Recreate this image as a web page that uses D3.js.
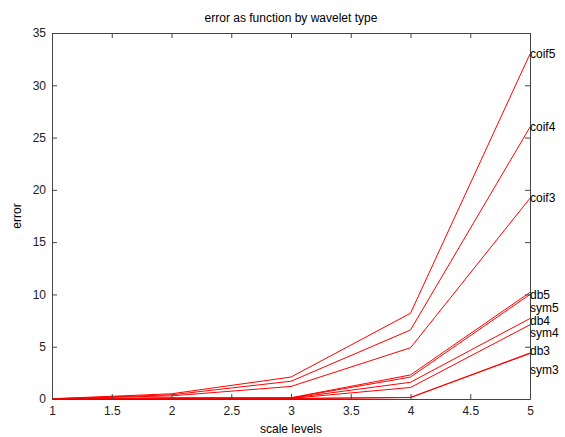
<!DOCTYPE html>
<html>
<head>
<meta charset="utf-8">
<script src="https://cdn.jsdelivr.net/npm/d3@7"></script>
<style>
  body { margin: 0; background: #fff; }
  text { font-family: "Liberation Sans", Arial, sans-serif; }
</style>
</head>
<body>
<div id="chart"></div>
<script>
var levels = [1, 2, 3, 4, 5];
var names = ["coif5", "coif4", "coif3", "db5", "sym5", "db4", "sym4", "db3", "sym3"];
var coif5 = [0.02, 0.5, 2.1, 8.2, 33.0];
var coif4 = [0.02, 0.4, 1.7, 6.6, 26.0];
var coif3 = [0.02, 0.3, 1.2, 4.9, 19.2];
var db5   = [0.01, 0.1, 0.12, 2.3, 10.2];
var sym5  = [0.01, 0.1, 0.1, 2.1, 10.0];
var db4   = [0.01, 0.07, 0.08, 1.6, 7.7];
var sym4  = [0.01, 0.06, 0.06, 1.1, 7.1];
var db3   = [0.01, 0.05, 0.05, 0.15, 4.4];
var sym3  = [0.01, 0.04, 0.04, 0.14, 4.35];
// where each name sits on the right edge (in error units)
var labelAt = [33.0, 26.0, 19.2, 10.0, 8.75, 7.45, 6.3, 4.6, 2.8];
var xTicks = [1, 1.5, 2, 2.5, 3, 3.5, 4, 4.5, 5];
var yTicks = [0, 5, 10, 15, 20, 25, 30, 35];

var series = [coif5, coif4, coif3, db5, sym5, db4, sym4, db3, sym3];

var width = 565, height = 437,
    plotL = 52, plotR = 530, plotT = 33, plotB = 399,
    tick = 5;

var svg = d3.select("#chart").append("svg")
  .attr("width", width)
  .attr("height", height);

var x = d3.scaleLinear().domain([1, 5]).range([plotL, plotR]);
var y = d3.scaleLinear().domain([0, 35]).range([plotB, plotT]);

var line = d3.line()
  .x(function(d, i) { return x(levels[i]); })
  .y(function(d) { return y(d); });

svg.selectAll("path.series")
  .data(series)
  .enter()
  .append("path")
  .attr("class", "series")
  .attr("d", line)
  .attr("fill", "none")
  .attr("stroke", "#ff0000")
  .attr("stroke-width", 1);

function styleAxis(g) {
  g.selectAll(".domain").attr("stroke", "#444");
  g.selectAll(".tick line").attr("stroke", "#444");
  g.selectAll(".tick text").attr("fill", "#222").style("font-size", "12px")
    .style("font-family", "'Liberation Sans', Arial, sans-serif");
}

svg.append("g")
  .attr("transform", "translate(0," + plotB + ")")
  .call(d3.axisBottom(x).tickValues(xTicks).tickFormat(String)
    .tickSizeInner(-tick).tickSizeOuter(0).tickPadding(7))
  .call(styleAxis);

svg.append("g")
  .attr("transform", "translate(0," + plotT + ")")
  .call(d3.axisTop(x).tickValues(xTicks).tickFormat("")
    .tickSizeInner(-tick).tickSizeOuter(0))
  .call(styleAxis);

svg.append("g")
  .attr("transform", "translate(" + plotL + ",0)")
  .call(d3.axisLeft(y).tickValues(yTicks).tickFormat(String)
    .tickSizeInner(-tick).tickSizeOuter(0).tickPadding(6))
  .call(styleAxis);

svg.append("g")
  .attr("transform", "translate(" + plotR + ",0)")
  .call(d3.axisRight(y).tickValues(yTicks).tickFormat("")
    .tickSizeInner(-tick).tickSizeOuter(0))
  .call(styleAxis);

svg.selectAll("text.name")
  .data(names)
  .enter()
  .append("text")
  .attr("class", "name")
  .attr("x", plotR)
  .attr("y", function(d, i) { return y(labelAt[i]); })
  .attr("dy", "0.35em")
  .style("font-size", "12px")
  .attr("fill", "#000")
  .text(function(d) { return d; });

svg.append("text")
  .attr("x", (plotL + plotR) / 2)
  .attr("y", 22)
  .attr("text-anchor", "middle")
  .style("font-size", "12px")
  .text("error as function by wavelet type");

svg.append("text")
  .attr("x", (plotL + plotR) / 2)
  .attr("y", 433)
  .attr("text-anchor", "middle")
  .style("font-size", "12px")
  .text("scale levels");

svg.append("text")
  .attr("transform", "translate(21," + ((plotT + plotB) / 2) + ") rotate(-90)")
  .attr("text-anchor", "middle")
  .style("font-size", "12px")
  .text("error");
</script>
</body>
</html>
